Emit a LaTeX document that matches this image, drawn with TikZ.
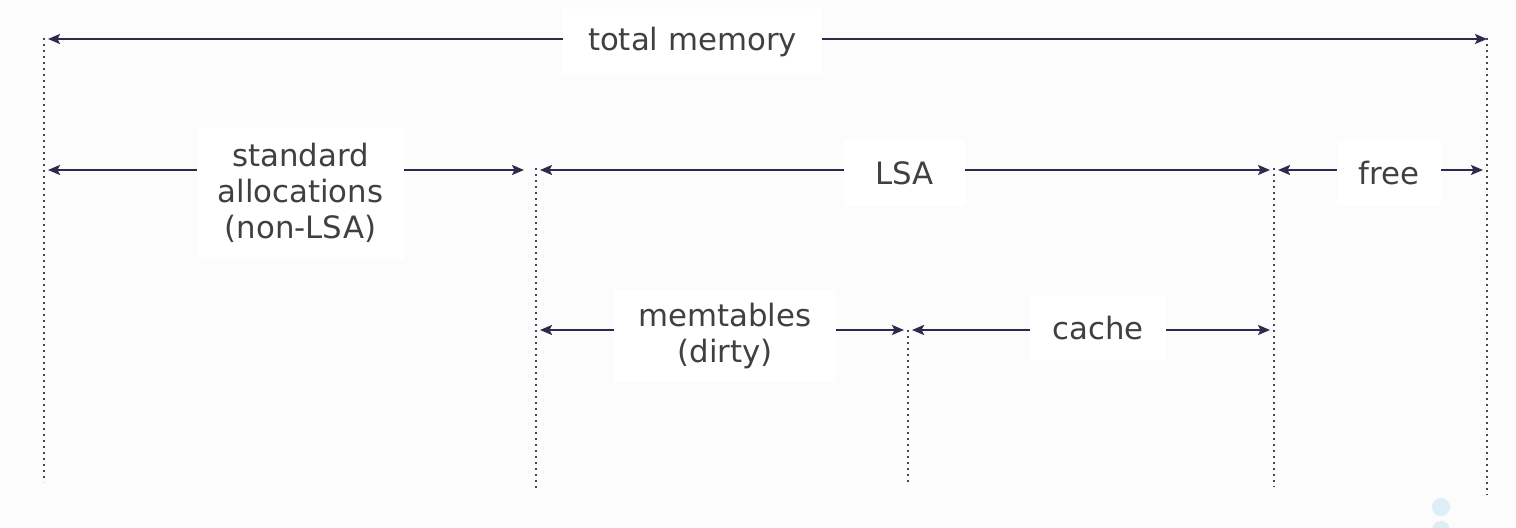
\documentclass[tikz,border=0pt]{standalone}
\usepackage{fontspec}
\setmainfont{DejaVu Sans}
\usetikzlibrary{arrows.meta}
\definecolor{bg}{RGB}{252,252,252}
\definecolor{arrowc}{RGB}{46,42,78}
\definecolor{txt}{RGB}{64,64,64}
\definecolor{dotc}{RGB}{70,70,90}
\definecolor{bubble}{RGB}{221,238,247}
\begin{document}
\begin{tikzpicture}[x=0.5pt,y=-0.5pt,
  lbl/.style={fill=white, text=txt, font=\fontsize{15.4}{18}\selectfont, align=center, inner sep=0pt, minimum height=33pt},
  arr/.style={draw=arrowc, line width=1pt, -{Stealth[length=6pt,width=5pt,inset=1.2pt]}, shorten >=2pt},
  guide/.style={draw=dotc, line width=1pt, dotted}]
\useasboundingbox (0,0) rectangle (1516,528);
\fill[bg] (0,0) rectangle (1516,528);
\begin{scope}
\clip (0,0) rectangle (1516,528);
\fill[bubble] (1441,507) circle (9);
\fill[bubble] (1441,530) circle (9);
\end{scope}
% level coordinates
\coordinate (lv1) at (0,39);
\coordinate (lv2) at (0,170);
\coordinate (lv3) at (0,330);
% guides
\coordinate (v1t) at (44,38);   \coordinate (v1b) at (44,482);
\coordinate (v2t) at (536,168); \coordinate (v2b) at (536,490);
\coordinate (v3t) at (908,330); \coordinate (v3b) at (908,485);
\coordinate (v4t) at (1274,168);\coordinate (v4b) at (1274,487);
\coordinate (v5t) at (1487,38); \coordinate (v5b) at (1487,495);
\draw[guide] (v1t) -- (v1b);
\draw[guide] (v2t) -- (v2b);
\draw[guide] (v3t) -- (v3b);
\draw[guide] (v4t) -- (v4b);
\draw[guide] (v5t) -- (v5b);
% labels
\node[lbl, minimum width=129.5pt] (tm) at (692.5,42) {total memory};
\node[lbl, minimum width=103.5pt, minimum height=66pt] (std) at (300.5,193) {standard\\allocations\\(non-LSA)};
\node[lbl, minimum width=60.5pt] (lsa) at (904.5,173) {LSA};
\node[lbl, minimum width=52pt] (free) at (1389,173) {free};
\node[lbl, minimum width=111pt, minimum height=46pt] (mem) at (725,336) {memtables\\(dirty)};
\node[lbl, minimum width=68pt] (cache) at (1098,328) {cache};
% arrows
\draw[arr] (tm.west |- lv1) -- (v1t |- lv1);
\draw[arr, shorten >=0pt] (tm.east |- lv1) -- (v5t |- lv1);
\draw[arr] (std.west |- lv2) -- (v1t |- lv2);
\draw[arr, shorten >=6pt] (std.east |- lv2) -- (v2t |- lv2);
\draw[arr] (lsa.west |- lv2) -- (v2t |- lv2);
\draw[arr] (lsa.east |- lv2) -- (v4t |- lv2);
\draw[arr] (free.west |- lv2) -- (v4t |- lv2);
\draw[arr] (free.east |- lv2) -- (v5t |- lv2);
\draw[arr] (mem.west |- lv3) -- (v2t |- lv3);
\draw[arr] (mem.east |- lv3) -- (v3t |- lv3);
\draw[arr] (cache.west |- lv3) -- (v3t |- lv3);
\draw[arr] (cache.east |- lv3) -- (v4t |- lv3);
\end{tikzpicture}
\end{document}
